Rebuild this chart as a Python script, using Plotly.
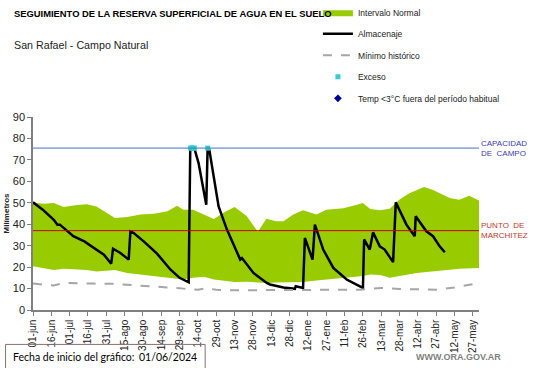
import plotly.graph_objects as go

# ---------------- data ----------------
tick_days = list(range(0, 361, 15))
tick_labels = ["01-jun", "16-jun", "01-jul", "16-jul", "31-jul", "15-ago", "30-ago", "14-sep",
               "29-sep", "14-oct", "29-oct", "13-nov", "28-nov", "13-dic", "28-dic", "12-ene",
               "27-ene", "11-feb", "26-feb", "13-mar", "28-mar", "12-abr", "27-abr", "12-may", "27-may"]

band_days = [0, 9, 17, 25, 36, 44, 52, 60, 67, 77, 88, 99, 110, 118, 123, 131, 140, 148, 158, 165,
             175, 184, 191, 199, 205, 213, 221, 232, 240, 254, 265, 270, 276, 284, 292, 300, 308,
             314, 320, 327, 333, 341, 349, 357, 365]
band_upper = [50.1, 49.6, 49.9, 48.0, 49.0, 49.3, 48.3, 45.2, 42.9, 43.4, 44.5, 44.9, 46.0, 48.6,
              46.8, 46.8, 44.5, 42.4, 46.0, 48.0, 43.7, 36.5, 42.5, 41.4, 41.4, 44.5, 46.5, 44.5,
              46.8, 47.4, 49.1, 49.9, 47.1, 46.5, 47.2, 51.5, 54.5, 56.0, 57.3, 56.1, 54.5, 52.2,
              51.4, 53.3, 51.1]
band_lower = [20.4, 19.6, 18.6, 19.2, 19.0, 18.6, 18.0, 18.2, 18.6, 17.3, 16.5, 15.8, 15.0, 14.4,
              14.2, 15.0, 15.5, 14.2, 13.4, 13.0, 13.2, 13.0, 12.6, 12.8, 12.8, 13.0, 13.0, 13.8,
              14.2, 14.8, 15.3, 15.8, 16.5, 16.3, 15.0, 15.8, 16.8, 17.3, 17.6, 18.1, 18.4, 18.8,
              19.2, 19.4, 19.6]

min_days = [0, 10, 17, 25, 35, 50, 65, 80, 95, 110, 120, 128, 135, 142, 150, 165, 180, 195, 215,
            235, 255, 268, 275, 285, 300, 315, 330, 345, 355, 365]
min_vals = [12.3, 11.8, 11.4, 12.6, 12.4, 12.3, 12.2, 11.5, 11.1, 10.5, 10.2, 9.6, 9.5, 10.2, 9.4,
            9.2, 9.2, 9.2, 9.2, 9.3, 9.3, 9.5, 9.9, 10.3, 9.8, 9.5, 9.5, 10.5, 11.6, 12.6]

store_days = [0, 8, 17, 20, 22, 25, 33, 42, 50, 58, 64, 65.5, 71.5, 78.3, 79.7, 82.4, 90.6, 101.5,
              112.4, 120, 127.4, 128.7, 132, 135.5, 141.8, 142.9, 144.3, 151.9, 158.7, 169.6, 171,
              180.4, 191.3, 194, 205, 214.3, 215, 221, 222.5, 228.8, 230.7, 237.5, 245.8, 256.7,
              270, 271, 275.6, 278.3, 283.8, 287.8, 294.7, 296.9, 305.6, 312.4, 313.2, 321.9,
              327.4, 332.8, 337]
store_vals = [50.2, 46.8, 42.1, 39.8, 39.8, 38.3, 34.4, 32.0, 28.9, 25.8, 21.6, 28.6, 26.6, 23.5,
              36.6, 35.9, 32.0, 26.3, 18.9, 15.0, 12.9, 75.5, 75.5, 68.5, 49.1, 75.5, 74.7, 48.3,
              37.5, 23.5, 24.2, 17.3, 12.6, 11.9, 10.5, 9.9, 11.1, 10.3, 33.6, 23.5, 39.8, 28.2,
              19.6, 14.2, 10.3, 32.9, 28.2, 36.2, 29.7, 28.2, 22.3, 50.2, 39.8, 34.4, 43.7, 36.7,
              34.4, 29.7, 26.9]

exceso_days = [129, 130, 131, 132, 143]
exceso_vals = [75.5, 75.5, 75.5, 75.5, 75.5]

capacidad_campo = 75.5
punto_marchitez = 37.0

# ---------------- figure ----------------
L, R, T, B = 32.5, 61.6, 117, 57.5
PW, PH = 541 - L - R, 368 - T - B


def px_x(px):
    return (px - L) / PW


def px_y(py):
    return (368 - B - py) / PH


fig = go.Figure()

fig.add_trace(go.Scatter(x=band_days, y=band_lower, mode="lines", line=dict(width=0, color="#99cc00"),
                         showlegend=False, hoverinfo="skip", legendgroup="a"))
fig.add_trace(go.Scatter(x=band_days, y=band_upper, mode="lines", fill="tonexty",
                         fillcolor="#99cc00", line=dict(width=0, color="#99cc00"),
                         name="Intervalo Normal", legendgroup="a"))
fig.add_trace(go.Scatter(x=store_days, y=store_vals, mode="lines",
                         line=dict(color="black", width=2.5), name="Almacenaje", legendgroup="b"))
fig.add_trace(go.Scatter(x=min_days, y=min_vals, mode="lines",
                         line=dict(color="#a6a6a6", width=2, dash="dash"),
                         name="Mínimo histórico", legendgroup="c"))
fig.add_trace(go.Scatter(x=exceso_days, y=exceso_vals, mode="markers",
                         marker=dict(color="#33cccc", size=5, symbol="square"),
                         name="Exceso", legendgroup="d"))
fig.add_trace(go.Scatter(x=[None], y=[None], mode="markers",
                         marker=dict(color="#000099", size=6, symbol="diamond"),
                         name="Temp <3°C fuera del período habitual", legendgroup="e"))

fig.add_shape(type="line", xref="x", yref="y", x0=0, x1=365, y0=capacidad_campo, y1=capacidad_campo,
              line=dict(color="#4472c4", width=1))
fig.add_shape(type="line", xref="x", yref="y", x0=0, x1=365, y0=punto_marchitez, y1=punto_marchitez,
              line=dict(color="#c00000", width=1))

ann_font = dict(family="Liberation Sans, Arial", size=8)
fig.add_annotation(x=1.0, xref="paper", y=capacidad_campo, yref="y", xanchor="left", yanchor="middle",
                   text="CAPACIDAD<br>DE  CAMPO", showarrow=False, align="left", xshift=0,
                   font=dict(ann_font, color="#3b3bb0"))
fig.add_annotation(x=1.0, xref="paper", y=punto_marchitez, yref="y", xanchor="left", yanchor="middle",
                   text="PUNTO  DE<br>MARCHITEZ", showarrow=False, align="left", xshift=0,
                   font=dict(ann_font, color="#c0392b"))

fig.add_annotation(x=px_x(11), y=px_y(13), xref="paper", yref="paper", xanchor="left", yanchor="middle",
                   text="<b>SEGUIMIENTO DE LA RESERVA SUPERFICIAL DE AGUA EN EL SUELO</b>",
                   showarrow=False, font=dict(family="Liberation Sans, Arial", size=9.4, color="black"))
fig.add_annotation(x=px_x(11), y=px_y(45), xref="paper", yref="paper", xanchor="left", yanchor="middle",
                   text="San Rafael - Campo Natural", showarrow=False,
                   font=dict(family="Liberation Sans, Arial", size=10.7, color="#222222"))
fig.add_annotation(x=px_x(503), y=px_y(358), xref="paper", yref="paper", xanchor="right", yanchor="middle",
                   text="<b>WWW.ORA.GOV.AR</b>", showarrow=False,
                   font=dict(family="Liberation Sans, Arial", size=9, color="#7f7f7f"))
fig.add_annotation(x=px_x(10), y=px_y(358), xref="paper", yref="paper", xanchor="left", yanchor="middle",
                   text="Fecha de inicio del gráfico:", showarrow=False,
                   font=dict(family="Lato, Liberation Sans", size=10.5, color="black"))
fig.add_annotation(x=px_x(137), y=px_y(358), xref="paper", yref="paper", xanchor="left", yanchor="middle",
                   text="01/06/2024", showarrow=False,
                   font=dict(family="Lato, Liberation Sans", size=10.5, color="black"))
fig.add_shape(type="rect", xref="paper", yref="paper", x0=px_x(5), x1=px_x(205), y0=px_y(345), y1=px_y(372),
              line=dict(color="#8c6e6e", width=1))

fig.update_layout(
    width=541, height=368,
    margin=dict(l=L, r=R, t=T, b=B, autoexpand=False),
    paper_bgcolor="white", plot_bgcolor="white",
    showlegend=True,
    legend=dict(x=px_x(318), y=px_y(-2.5), xanchor="left", yanchor="top",
                font=dict(family="Liberation Sans, Arial", size=8.5, color="#222222"),
                traceorder="grouped", tracegroupgap=2.5, itemwidth=30, bgcolor="rgba(0,0,0,0)"),
    xaxis=dict(range=[0, 365], tickmode="array", tickvals=tick_days, ticktext=tick_labels,
               tickangle=-90, showgrid=False, zeroline=False, showline=True, linecolor="#808080",
               linewidth=1.5, ticks="outside", ticklen=4, tickcolor="#808080", automargin=False,
               tickfont=dict(family="Liberation Sans, Arial", size=10, color="#222222")),
    yaxis=dict(range=[0, 90], tickmode="array", tickvals=list(range(0, 91, 10)),
               showgrid=False, zeroline=False, showline=True, linecolor="#808080", linewidth=1.5,
               ticks="outside", ticklen=4, tickcolor="#808080", automargin=False,
               title=dict(text="<b>Milímetros</b>", standoff=2,
                          font=dict(family="Liberation Sans, Arial", size=8, color="#222222")),
               tickfont=dict(family="Liberation Sans, Arial", size=11, color="#222222")),
)

fig.write_html("out.html", config={"displayModeBar": False},
               post_script="document.body.style.margin='0px';document.body.style.overflow='hidden';")
